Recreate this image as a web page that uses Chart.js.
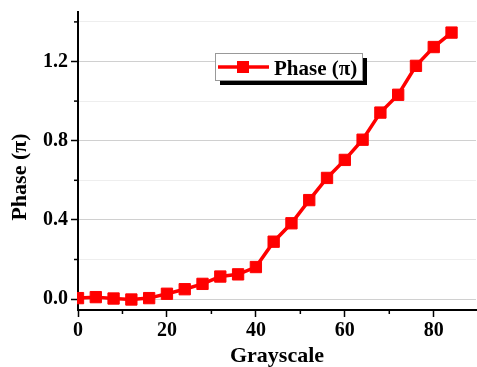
<!DOCTYPE html>
<html>
<head>
<meta charset="utf-8">
<script src="https://cdn.jsdelivr.net/npm/chart.js@4/dist/chart.umd.min.js"></script>
<style>
  html, body { margin: 0; padding: 0; background: #fff; }
  #wrap { position: relative; width: 477px; height: 367px; }
</style>
</head>
<body>
<div id="wrap"><canvas id="chart" width="477" height="367"></canvas></div>
<script>
const grayscale = [0, 4, 8, 12, 16, 20, 24, 28, 32, 36, 40, 44, 48, 52, 56, 60, 64, 68, 72, 76, 80, 84];
const phase = [0.005, 0.01, 0.003, -0.002, 0.005, 0.027, 0.05, 0.077, 0.114, 0.125, 0.162, 0.29, 0.383, 0.5, 0.612, 0.703, 0.805, 0.942, 1.032, 1.178, 1.273, 1.346];
const seriesLabel = 'Phase (π)';
const xTitle = 'Grayscale';
const yTitle = 'Phase (π)';

const RED = '#ff0000';
const FONT = "'Liberation Serif', 'Times New Roman', serif";

const isMajorY = (v) => Math.round(v / 0.2) % 2 === 0;
const isMajorX = (v) => Math.round(v / 10) % 2 === 0;

// short minor ticks, y title and the boxed legend with its shadow
const extras = {
  id: 'extras',
  afterDraw(chart) {
    const ctx = chart.ctx;
    const area = chart.chartArea;
    const xs = chart.scales.x;
    const ys = chart.scales.y;
    ctx.save();
    ctx.strokeStyle = '#000';
    ctx.lineWidth = 1.5;
    xs.ticks.forEach((t) => {
      if (!isMajorX(t.value)) {
        let px = xs.getPixelForValue(t.value);
        ctx.beginPath();
        ctx.moveTo(px, area.bottom);
        ctx.lineTo(px, area.bottom + 4);
        ctx.stroke();
      }
    });
    ys.ticks.forEach((t) => {
      if (!isMajorY(t.value)) {
        let py = ys.getPixelForValue(t.value);
        ctx.beginPath();
        ctx.moveTo(area.left - 4, py);
        ctx.lineTo(area.left, py);
        ctx.stroke();
      }
    });

    // y title
    ctx.fillStyle = '#000';
    ctx.font = 'bold 22px ' + FONT;
    ctx.textAlign = 'center';
    ctx.textBaseline = 'middle';
    ctx.translate(20, 177);
    ctx.rotate(-Math.PI / 2);
    ctx.fillText(yTitle, 0, 0);
    ctx.restore();

    // legend
    const label = chart.data.datasets[0].label;
    const bx = 215, by = 53, bw = 147, bh = 27;
    ctx.save();
    ctx.fillStyle = '#000';
    ctx.fillRect(bx + 5, by + 5, bw, bh);
    ctx.fillStyle = '#fff';
    ctx.fillRect(bx, by, bw, bh);
    ctx.strokeStyle = '#999';
    ctx.lineWidth = 1;
    ctx.strokeRect(bx + 0.5, by + 0.5, bw, bh);
    ctx.strokeStyle = RED;
    ctx.lineWidth = 3.5;
    ctx.beginPath();
    ctx.moveTo(bx + 3, by + 14);
    ctx.lineTo(bx + 54, by + 14);
    ctx.stroke();
    ctx.fillStyle = RED;
    ctx.fillRect(bx + 22, by + 8, 12, 12);
    ctx.fillStyle = '#000';
    ctx.font = 'bold 21px ' + FONT;
    ctx.textAlign = 'left';
    ctx.textBaseline = 'alphabetic';
    ctx.fillText(label, bx + 59, by + 22);
    ctx.restore();
  },
};

new Chart(document.getElementById('chart'), {
  type: 'line',
  data: {
    datasets: [
      {
        label: seriesLabel,
        data: grayscale.map((g, i) => ({ x: g, y: phase[i] })),
        borderColor: RED,
        backgroundColor: RED,
        borderWidth: 3.5,
        tension: 0,
        pointStyle: 'rect',
        pointRadius: 8,
        pointBorderWidth: 1,
        pointBackgroundColor: RED,
        pointBorderColor: RED,
        clip: 1,
      },
    ],
  },
  options: {
    responsive: false,
    animation: false,
    layout: { autoPadding: false, padding: { top: 12, right: 1, left: 0, bottom: 0 } },
    plugins: { legend: { display: false }, tooltip: { enabled: false } },
    scales: {
      x: {
        type: 'linear',
        min: 0,
        max: 89.5,
        afterFit: (scale) => {
          scale.height = 57;
          scale.paddingLeft = 0;
          scale.paddingRight = 0;
        },
        ticks: {
          stepSize: 10,
          includeBounds: false,
          autoSkip: false,
          maxRotation: 0,
          padding: 2,
          color: '#000',
          font: { family: FONT, size: 20, weight: 'bold' },
          callback: (v) => (isMajorX(v) ? String(v) : ''),
        },
        grid: {
          drawOnChartArea: false,
          tickLength: 7,
          tickWidth: 1.5,
          tickColor: (c) => (c.tick && isMajorX(c.tick.value) ? '#000' : 'rgba(0,0,0,0)'),
        },
        border: { color: '#000', width: 2 },
        title: {
          display: true,
          text: xTitle,
          color: '#000',
          font: { family: FONT, size: 22, weight: 'bold', lineHeight: 1 },
          padding: { top: 0, bottom: 0 },
        },
      },
      y: {
        min: -0.055,
        max: 1.45,
        afterFit: (scale) => {
          scale.width = 78;
          scale.paddingTop = 0;
          scale.paddingBottom = 0;
        },
        ticks: {
          stepSize: 0.2,
          includeBounds: false,
          autoSkip: false,
          padding: 3,
          color: '#000',
          font: { family: FONT, size: 20, weight: 'bold' },
          callback: (v) => (isMajorY(v) ? v.toFixed(1) : ''),
        },
        grid: {
          tickLength: 7,
          tickWidth: 1.5,
          lineWidth: 1,
          color: (c) => (c.tick && isMajorY(c.tick.value) ? '#d0d0d0' : '#eeeeee'),
          tickColor: (c) => (c.tick && isMajorY(c.tick.value) ? '#000' : 'rgba(0,0,0,0)'),
        },
        border: { color: '#000', width: 2 },
      },
    },
  },
  plugins: [extras],
});
</script>
</body>
</html>
